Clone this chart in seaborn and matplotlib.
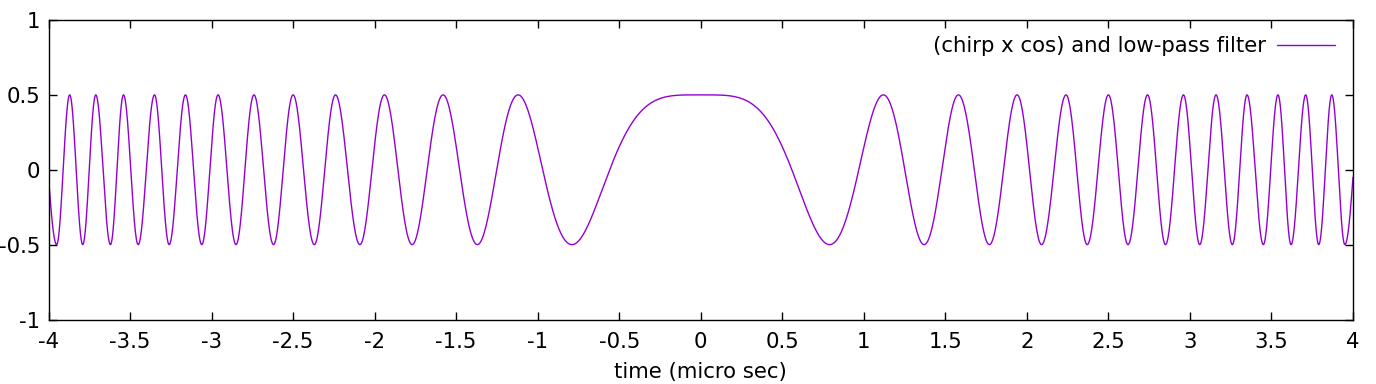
import numpy as np
import pandas as pd
import matplotlib
matplotlib.use("Agg")
import matplotlib.pyplot as plt
import seaborn as sns

# values
amplitude = 0.5
# times of successive extrema (peak at 0, then trough, peak, ...), symmetric about t = 0
extrema_t = [0.0, 0.79, 1.12, 1.37, 1.58, 1.77, 1.94, 2.09, 2.24, 2.37, 2.50,
             2.62, 2.74, 2.85, 2.96, 3.06, 3.16, 3.26, 3.35, 3.45, 3.54, 3.62,
             3.71, 3.79, 3.87, 3.95]
edge_t = 4.0
edge_y = -0.05   # curve is rising through about -0.05 at the window edge
x_ticks = [-4, -3.5, -3, -2.5, -2, -1.5, -1, -0.5, 0, 0.5, 1, 1.5, 2, 2.5, 3, 3.5, 4]
x_tick_labels = ["-4", "-3.5", "-3", "-2.5", "-2", "-1.5", "-1", "-0.5", "0",
                 "0.5", "1", "1.5", "2", "2.5", "3", "3.5", "4"]
y_ticks = [-1, -0.5, 0, 0.5, 1]
y_tick_labels = ["-1", "-0.5", "0", "0.5", "1"]
series_label = "(chirp x cos) and low-pass filter"

# phase at each extremum is k*pi, edge phase from the edge value
knot_t = np.array(extrema_t + [edge_t])
knot_phase = np.concatenate([np.arange(len(extrema_t)) * np.pi,
                             [(len(extrema_t) - 1) * np.pi + np.arccos(-edge_y / amplitude)]])

t = np.linspace(-edge_t, edge_t, 8001)
phase = np.interp(t ** 2, knot_t ** 2, knot_phase)
df = pd.DataFrame({"time": t, "signal": amplitude * np.cos(phase)})

sns.set_style("ticks")
plt.rcParams["font.family"] = ["DejaVu Sans"]
plt.rcParams["text.color"] = "black"
plt.rcParams["axes.labelcolor"] = "black"
fs = 15.3

fig = plt.figure(figsize=(13.76, 3.84), dpi=100)
ax = fig.add_axes([48.5 / 1376, 1 - 319.5 / 384, (1353 - 48.5) / 1376, (319.5 - 20) / 384])

sns.lineplot(data=df, x="time", y="signal", ax=ax, color="#9400d3", linewidth=1,
             sort=False, estimator=None, label=series_label)

ax.set_xlim(-4, 4)
ax.set_ylim(-1, 1)
ax.set_xticks(x_ticks)
ax.set_xticklabels(x_tick_labels)
ax.set_yticks(y_ticks)
ax.set_yticklabels(y_tick_labels)
ax.tick_params(direction="in", top=True, right=True, length=6, width=1,
               labelsize=fs, colors="black")
ax.tick_params(axis="x", pad=9)
ax.tick_params(axis="y", pad=6)
for s in ax.spines.values():
    s.set_visible(True)
    s.set_linewidth(1)
    s.set_color("black")
ax.set_xlabel("time (micro sec)", fontsize=fs, labelpad=7, color="black")
ax.set_ylabel("")

leg = ax.legend(loc="upper right", frameon=False, markerfirst=False, handlelength=2.75,
                handletextpad=0.5, fontsize=fs, borderaxespad=0, borderpad=0,
                bbox_to_anchor=(0.9862, 0.946))
for txt in leg.get_texts():
    txt.set_color("black")

fig.savefig("out.png", dpi=100)
